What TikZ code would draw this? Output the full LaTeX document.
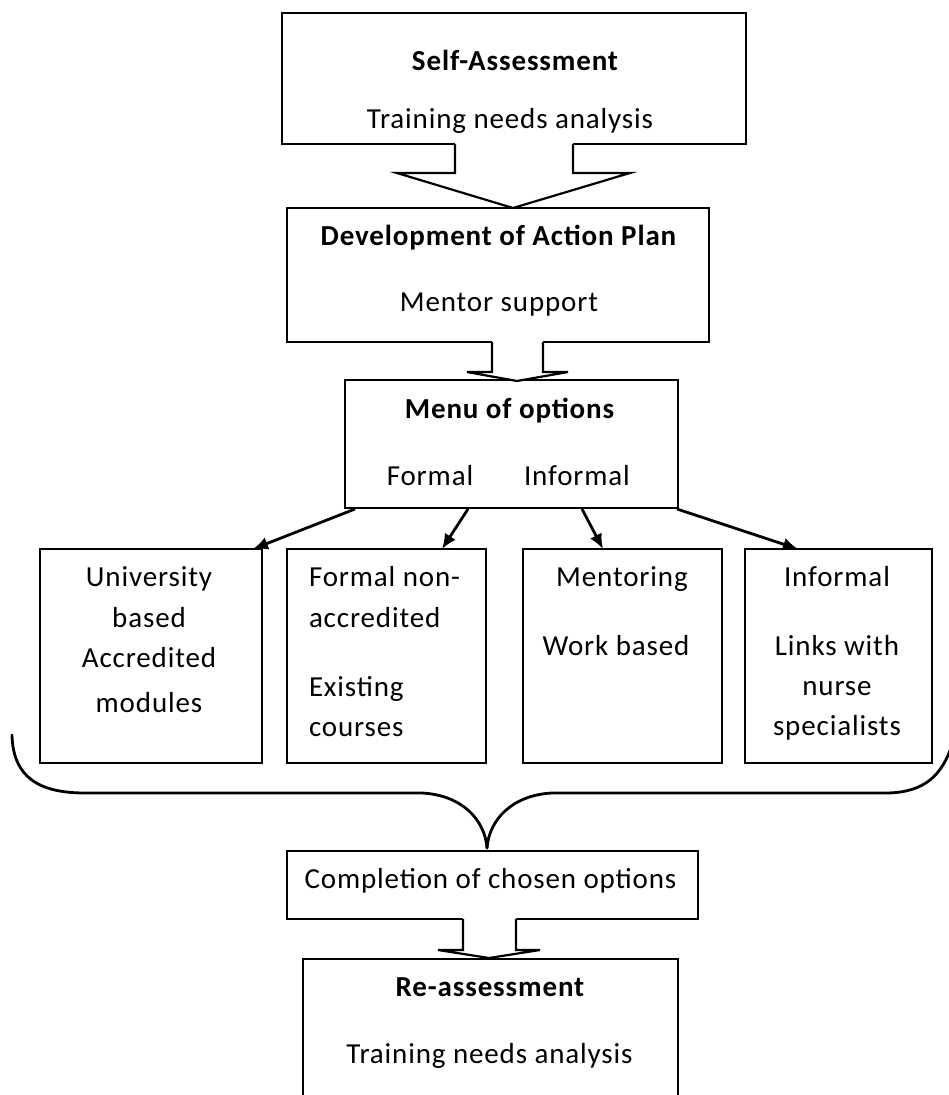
\documentclass[tikz,border=0pt]{standalone}
\usepackage{fontspec}
\setmainfont{Carlito}[LetterSpace=3]
\usetikzlibrary{calc,arrows.meta}
\begin{document}
\begin{tikzpicture}[x=1pt,y=-1pt,
  box/.style={draw=black,line width=1.4pt,inner sep=0pt,outer sep=0pt},
  txt/.style={inner sep=0pt,outer sep=0pt,anchor=base,font=\fontsize{29}{34}\selectfont},
  conn/.style={line width=2.8pt,-{Latex[length=15pt,width=13pt]}},
  barrow/.style={line width=2.2pt,line join=miter},
  bracestyle/.style={line width=2.8pt,line cap=round}]
\useasboundingbox (0,0) rectangle (949,1095);
\clip (0,0) rectangle (949,1095);
% boxes
\node[box,minimum width=464pt,minimum height=131pt] (sa) at (514,78.5) {};
\node[box,minimum width=422pt,minimum height=134pt] (dev) at (498,275) {};
\node[box,minimum width=333pt,minimum height=128pt] (menu) at (511.5,444) {};
\node[box,minimum width=222pt,minimum height=214pt] (b1) at (151,656) {};
\node[box,minimum width=199pt,minimum height=214pt] (b2) at (386.5,656) {};
\node[box,minimum width=199pt,minimum height=214pt] (b3) at (622.5,656) {};
\node[box,minimum width=187pt,minimum height=214pt] (b4) at (838.5,656) {};
\node[box,minimum width=411pt,minimum height=68pt] (comp) at (492.5,885) {};
\node[box,minimum width=375pt,minimum height=151pt] (re) at (490.5,1034.5) {};
% texts
\node[txt] (t1) at (515,70) {\bfseries Self-Assessment};
\node[txt] (t2) at (510,128) {Training needs analysis};
\node[txt] (t3) at (498.5,245) {\bfseries Development of Action Plan};
\node[txt] (t4) at (499,311) {Mentor support};
\node[txt] (t5) at (509.5,418) {\bfseries Menu of options};
\node[txt] (t6) at (430,485) {Formal};
\node[txt] (t7) at (577,485) {Informal};
\node[txt] (u1) at (149,586) {University};
\node[txt] (u2) at (149,627) {based};
\node[txt] (u3) at (149,667) {Accredited};
\node[txt] (u4) at (149,712) {modules};
\node[txt,anchor=base west] (f1) at (309,586) {Formal non-};
\node[txt,anchor=base west] (f2) at (309,627) {accredited};
\node[txt,anchor=base west] (f3) at (309,696) {Existing};
\node[txt,anchor=base west] (f4) at (309,736) {courses};
\node[txt] (m1) at (622,586) {Mentoring};
\node[txt] (m2) at (616,655) {Work based};
\node[txt] (i1) at (837,586) {Informal};
\node[txt] (i2) at (837,655) {Links with};
\node[txt] (i3) at (837,695) {nurse};
\node[txt] (i4) at (837,735) {specialists};
\node[txt] (c1) at (490.5,888) {Completion of chosen options};
\node[txt] (r1) at (490,996) {\bfseries Re-assessment};
\node[txt] (r2) at (489.5,1063) {Training needs analysis};
% connectors
\draw[conn] ($(menu.south west)+(10,1)$) -- ($(b1.north east)+(-9,0)$);
\draw[conn] ($(menu.south west)+(123,1)$) -- ($(b2.north west)+(155,0)$);
\draw[conn] ($(menu.south west)+(237,1)$) -- ($(b3.north west)+(80,0)$);
\draw[conn] ($(menu.south east)+(-1,1)$) -- ($(b4.north west)+(53,0)$);
% block arrows
\fill[white] (455,141) -- (455,173) -- (397,173) -- (513,208) -- (630,173) -- (573,173) -- (573,141) -- cycle;
\draw[barrow] (455,144) -- (455,173) -- (397,173) -- (513,208) -- (630,173) -- (573,173) -- (573,144);
\fill[white] (492,339) -- (492,372) -- (467,372) -- (517,381) -- (568,372) -- (543,372) -- (543,339) -- cycle;
\draw[barrow] (492,342) -- (492,372) -- (467,372) -- (517,381) -- (568,372) -- (543,372) -- (543,342);
\fill[white] (463,916) -- (463,950) -- (438,950) -- (489,958) -- (540,950) -- (516,950) -- (516,916) -- cycle;
\draw[barrow] (463,919) -- (463,950) -- (438,950) -- (489,958) -- (540,950) -- (516,950) -- (516,919);
% brace
\draw[bracestyle] (12,735) .. controls (13,778) and (40,793) .. (85,793) -- (422,793) .. controls (462,795) and (485,820) .. (487,848);
\draw[bracestyle] (487,848) .. controls (489,820) and (512,795) .. (552,793) -- (888,793) .. controls (925,792) and (942,775) .. (952,745);
\end{tikzpicture}
\end{document}
